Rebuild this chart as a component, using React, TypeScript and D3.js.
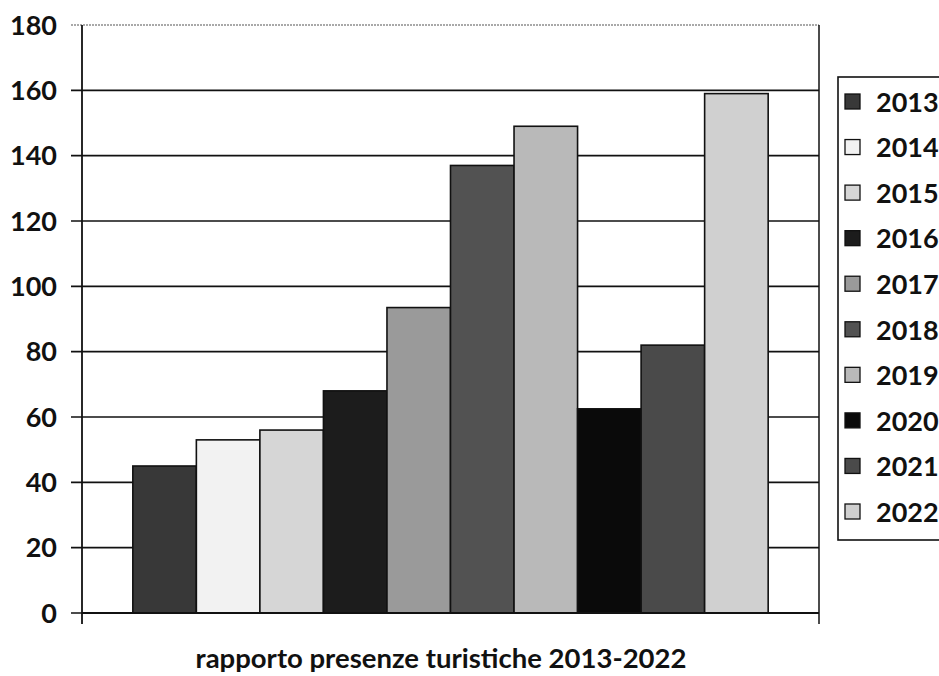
import React, { useEffect, useRef } from 'react';
import * as d3 from 'd3';

const years = ['2013', '2014', '2015', '2016', '2017', '2018', '2019', '2020', '2021', '2022'];
const values = [45, 53, 56, 68, 93.5, 137, 149, 62.5, 82, 159];
const fills = ['#383838', '#f2f2f2', '#d6d6d6', '#1c1c1c', '#9a9a9a', '#525252', '#b9b9b9', '#0a0a0a', '#4a4a4a', '#d0d0d0'];
const yTicks = [0, 20, 40, 60, 80, 100, 120, 140, 160, 180];
const title = 'rapporto presenze turistiche 2013-2022';

const App: React.FC = () => {
  const svgRef = useRef<SVGSVGElement>(null);

  useEffect(() => {
    if (!svgRef.current) return;
    const width = 939;
    const height = 676;
    const plot = { left: 82, right: 819, top: 25, bottom: 613 };
    const font = 'Lato, "Open Sans", sans-serif';

    const root = d3.select(svgRef.current);
    root.selectAll('*').remove();
    const svg = root.attr('width', width).attr('height', height);

    svg.append('rect').attr('width', width).attr('height', height).attr('fill', '#fff');

    const x = d3.scaleBand<string>()
      .domain(years)
      .range([plot.left, plot.right])
      .paddingInner(0)
      .paddingOuter(0.8);

    const y = d3.scaleLinear()
      .domain([0, 180])
      .range([plot.bottom, plot.top]);

    // gridlines + ticks
    svg.append('g')
      .selectAll('line')
      .data(yTicks)
      .join('line')
      .attr('x1', plot.left - 11)
      .attr('x2', plot.right)
      .attr('y1', d => y(d))
      .attr('y2', d => y(d))
      .attr('stroke', d => (d === 180 ? '#555' : '#111'))
      .attr('stroke-width', d => (d === 180 ? 1.2 : 1.6))
      .attr('stroke-dasharray', d => (d === 180 ? '2,1' : null));

    svg.append('g')
      .selectAll('text')
      .data(yTicks)
      .join('text')
      .attr('x', 57)
      .attr('y', d => y(d))
      .attr('dy', '0.36em')
      .attr('text-anchor', 'end')
      .attr('font-family', font)
      .attr('font-weight', 700)
      .attr('font-size', 27)
      .attr('fill', '#111')
      .text(d => d);

    // bars
    svg.append('g')
      .selectAll('rect')
      .data(values)
      .join('rect')
      .attr('x', (_, i) => x(years[i]) || 0)
      .attr('width', x.bandwidth())
      .attr('y', d => y(d))
      .attr('height', d => y(0) - y(d))
      .attr('fill', (_, i) => fills[i])
      .attr('stroke', '#111')
      .attr('stroke-width', 1.6);

    // axes
    svg.append('line')
      .attr('x1', plot.left).attr('x2', plot.left)
      .attr('y1', plot.top).attr('y2', plot.bottom + 11)
      .attr('stroke', '#111').attr('stroke-width', 1.8);
    svg.append('line')
      .attr('x1', plot.right).attr('x2', plot.right)
      .attr('y1', plot.top).attr('y2', plot.bottom + 11)
      .attr('stroke', '#111').attr('stroke-width', 1.5);
    svg.append('line')
      .attr('x1', plot.left).attr('x2', plot.right)
      .attr('y1', plot.bottom).attr('y2', plot.bottom)
      .attr('stroke', '#111').attr('stroke-width', 1.8);

    // title
    svg.append('text')
      .attr('x', 441)
      .attr('y', 668)
      .attr('text-anchor', 'middle')
      .attr('font-family', font)
      .attr('font-weight', 700)
      .attr('font-size', 27.5)
      .attr('fill', '#111')
      .text(title);

    // legend
    const ly = d3.scalePoint<string>().domain(years).range([102, 512]);
    svg.append('rect')
      .attr('x', 838).attr('y', 77)
      .attr('width', 120).attr('height', 463)
      .attr('fill', '#fff')
      .attr('stroke', '#111').attr('stroke-width', 1.6);

    const items = svg.append('g')
      .selectAll('g')
      .data(years)
      .join('g')
      .attr('transform', d => `translate(0,${ly(d)})`);

    items.append('rect')
      .attr('x', 845).attr('y', -8)
      .attr('width', 15).attr('height', 15)
      .attr('fill', (_, i) => fills[i])
      .attr('stroke', '#111').attr('stroke-width', 1.3);

    items.append('text')
      .attr('x', 876)
      .attr('dy', '0.36em')
      .attr('font-family', font)
      .attr('font-weight', 700)
      .attr('font-size', 27)
      .attr('fill', '#111')
      .text(d => d);
  }, []);

  return (
    <div style={{ position: 'absolute', left: 0, top: 0 }}>
      <svg ref={svgRef} style={{ display: 'block' }} />
    </div>
  );
};

export default App;
